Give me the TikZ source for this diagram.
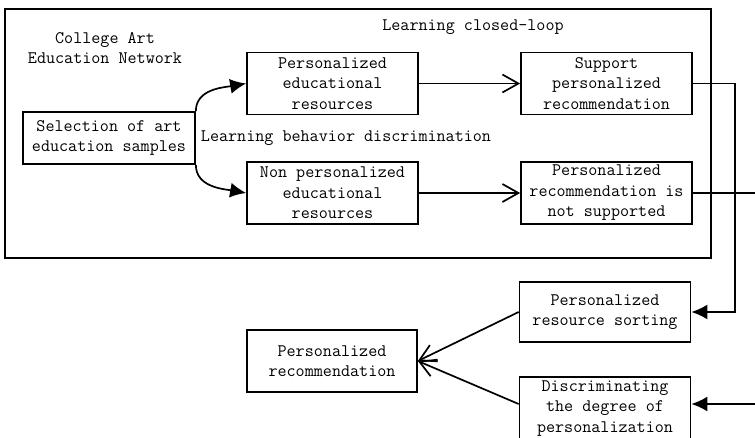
\documentclass[tikz,border=0pt]{standalone}
\usetikzlibrary{arrows.meta}

\begin{document}
\begin{tikzpicture}[x=1pt,y=-1pt,
	box/.style={draw,line width=1.7pt,align=center,inner sep=0pt,minimum width=171pt,minimum height=62pt},
	txt/.style={align=center,inner sep=0pt},
	openarrow/.style={line width=1.7pt,-{Straight Barb[length=16pt,width=18pt,line width=1.7pt]}},
	fillarrow/.style={line width=1.7pt,-{Latex[length=16pt,width=15pt]}},
	every node/.style={font=\ttfamily\fontsize{17.6}{20.5}\selectfont}]
			\useasboundingbox (0,0) rectangle (755,438);
			% frame
			\draw[line width=1.5pt] (5,9) rectangle (711,258);
			% labels
			\node[txt] (net) at (105,48) {College Art\\Education Network};
			\node[txt] (loop) at (473,27) {Learning closed-loop};
			\node[txt] (behav) at (346,138) {Learning behavior discrimination};
			% boxes
			\node[box,minimum width=172pt,minimum height=52pt] (sel) at (109,138) {Selection of art\\education samples};
			\node[box] (pe) at (332.5,83.5) {Personalized\\educational\\resources};
			\node[box] (npe) at (332.5,193) {Non personalized\\educational\\resources};
			\node[box] (sup) at (606.5,83.5) {Support\\personalized\\recommendation};
			\node[box] (nsup) at (606.5,193) {Personalized\\recommendation is\\not supported};
			\node[box,minimum height=60pt] (sort) at (605,312) {Personalized\\resource sorting};
			\node[box,minimum height=63pt] (deg) at (605,408.5) {Discriminating\\the degree of\\personalization};
			\node[box,minimum width=170pt] (rec) at (332,361) {Personalized\\recommendation};
			% ends at the right border
			\coordinate (out1) at (755,193);
			\coordinate (out2) at (755,404);
			% connectors
			\draw[fillarrow] (sel.north east) to[out=90,in=190] (pe.west);
			\draw[fillarrow] (sel.south east) to[out=-90,in=170] (npe.west);
			\draw[openarrow] (pe) -- (sup);
			\draw[openarrow] (npe) -- (nsup);
			\draw[fillarrow] (sup.east) -- ++(42,0) |- (sort.east);
			\draw[line width=1.7pt] (nsup.east) -- (out1);
			\draw[fillarrow] (out2) -- (deg.east |- out2);
			\draw[openarrow] (sort.west) -- (rec.east);
			\draw[openarrow] (deg.west |- out2) -- (rec.east);
		\end{tikzpicture}
\end{document}
